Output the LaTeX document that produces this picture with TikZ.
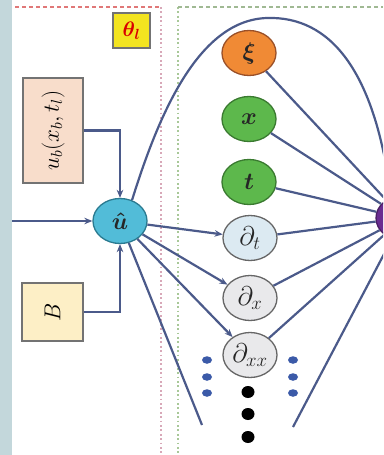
\RequirePackage{fix-cm}
\documentclass[tikz,border=0pt]{standalone}
\usepackage{bm}
\usetikzlibrary{shapes.geometric,arrows.meta}
\definecolor{strip}{HTML}{C3D7DB}
\definecolor{lnc}{HTML}{4B5A8A}
\definecolor{orng}{HTML}{F08A35}
\definecolor{orngd}{HTML}{9A5028}
\definecolor{grn}{HTML}{5DB84C}
\definecolor{grnd}{HTML}{3A7A30}
\definecolor{ltblue}{HTML}{DCEAF2}
\definecolor{ltgray}{HTML}{E9E9EB}
\definecolor{cyan1}{HTML}{52BCD8}
\definecolor{cyand}{HTML}{2A7A90}
\definecolor{purp}{HTML}{6A2C91}
\definecolor{peach}{HTML}{F8DDCB}
\definecolor{cream}{HTML}{FDEFC6}
\definecolor{yell}{HTML}{F3E420}
\definecolor{redd}{HTML}{E07878}
\definecolor{pinkd}{HTML}{D8A8B8}
\definecolor{grnline}{HTML}{A8C898}
\definecolor{bluedot}{HTML}{3B5AA8}
\begin{document}
\begin{tikzpicture}[x=1pt,y=-1pt,
  ell/.style={ellipse,minimum width=54pt,minimum height=45pt,inner sep=0pt,line width=1.3pt,
    font=\fontsize{24}{26}\selectfont,text=black!85},
  dlab/.style={font=\fontsize{27}{29}\selectfont},
  ln/.style={draw=lnc,line width=2.2pt},
  arr/.style={ln,-{Stealth[length=8pt,width=6.5pt]}},
  box/.style={draw=black!55,line width=1.3pt,inner sep=0pt,font=\fontsize{23}{26}\selectfont},
  bdot/.style={ellipse,fill=black,minimum width=13pt,minimum height=12pt,inner sep=0pt},
  udot/.style={ellipse,fill=bluedot,minimum width=10pt,minimum height=7.5pt,inner sep=0pt},
  reddash/.style={draw=redd,line width=1.2pt,dash pattern=on 4pt off 3pt},
  pinkdot/.style={draw=pinkd,line width=1.8pt,dash pattern=on 1.8pt off 2.6pt},
  grndot/.style={draw=grnline,line width=1.8pt,dash pattern=on 1.8pt off 2.6pt},
  grndash/.style={draw=grnline!80!gray,line width=1.2pt,dash pattern=on 4pt off 3pt}]
\useasboundingbox (0,0) rectangle (383,455);
\clip (0,0) rectangle (383,455);
\fill[white] (0,0) rectangle (383,455);
\fill[strip] (0,0) rectangle (12,455);
% frames
\draw[reddash] (15,7) -- (160,7);
\draw[pinkdot] (161,7) -- (161,455);
\draw[grndot] (178,7) -- (178,455);
\draw[grndash] (178,7) -- (383,7);
% boxes
\node[box,fill=yell,minimum width=37pt,minimum height=35pt,text=red!85!black,font=\fontsize{21}{24}\selectfont] (th) at (131.5,30.5) {$\bm{\theta_l}$};
\node[box,fill=peach,rotate=90,minimum width=105pt,minimum height=60pt] (ub) at (53,130.5) {$u_b(x_b,t_l)$};
\node[box,fill=cream,rotate=90,minimum width=58pt,minimum height=61pt] (B) at (52.5,312) {$B$};
% nodes
\node[ell,fill=cyan1,draw=cyand] (uh) at (120,221) {$\bm{\hat{u}}$};
\node[ell,fill=orng,draw=orngd] (xi) at (249,53) {$\bm{\xi}$};
\node[ell,fill=grn,draw=grnd] (x) at (249,119) {$\bm{x}$};
\node[ell,fill=grn,draw=grnd] (t) at (249,182) {$\bm{t}$};
\node[ell,dlab,fill=ltblue,draw=black!60] (dt) at (250,238) {$\partial_t$};
\node[ell,dlab,fill=ltgray,draw=black!60] (dx) at (250,298) {$\partial_x$};
\node[ell,dlab,fill=ltgray,draw=black!60] (dxx) at (250,355) {$\partial_{xx}$};
\node[ell,fill=purp,draw=purp!70!black] (P) at (403,218) {};
% dots
\node[udot] (l1) at (207,360) {};
\node[udot] (l2) at (207,377) {};
\node[udot] (l3) at (207,393) {};
\node[udot] (r1) at (293,360) {};
\node[udot] (r2) at (293,377) {};
\node[udot] (r3) at (293,393) {};
\node[bdot] (k1) at (248,392) {};
\node[bdot] (k2) at (248,414) {};
\node[bdot] (k3) at (248,437) {};
\coordinate (in) at (12,221);
\coordinate (e1) at (202,425);
\coordinate (e2) at (293,427);
% connectors
\draw[arr] (in) -- (uh);
\draw[arr] (ub) -| (uh);
\draw[arr] (B) -| (uh);
\draw[arr] (uh) -- (dt);
\draw[arr] (uh) -- (dx);
\draw[arr] (uh) -- (dxx);
\draw[ln] (uh) -- (e1);
\draw[ln] (xi) -- (P);
\draw[ln] (x) -- (P);
\draw[ln] (t) -- (P);
\draw[ln] (dt) -- (P);
\draw[ln] (dx) -- (P);
\draw[ln] (dxx) -- (P);
\draw[ln] (e2) -- (P);
\draw[ln] (uh.60) .. controls (160,110) and (200,20) .. (267,18) .. controls (330,16) and (375,70) .. (P.120);
\end{tikzpicture}
\end{document}
